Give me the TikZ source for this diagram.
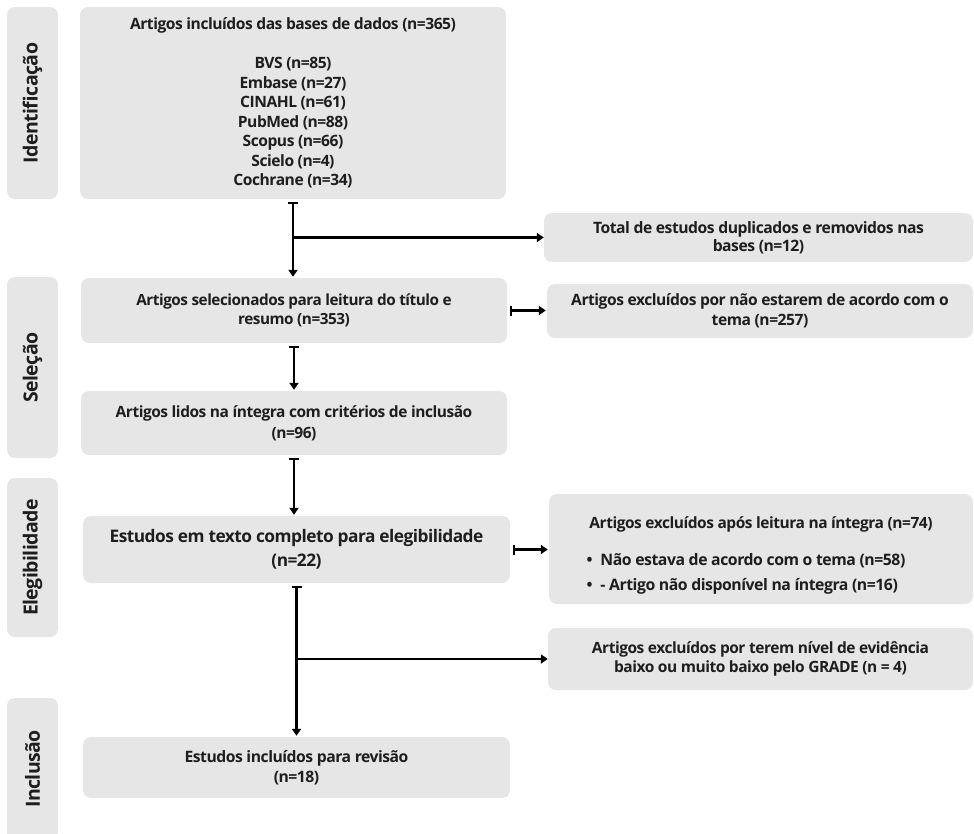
\documentclass[tikz,border=0pt]{standalone}
\usepackage{fontspec}
\setmainfont{Open Sans}[LetterSpace=-3]
\usetikzlibrary{arrows.meta}
\definecolor{boxgrey}{HTML}{E6E6E6}
\definecolor{inkgrey}{HTML}{1E1E1E}

\begin{document}
\begin{tikzpicture}[x=1pt,y=-1pt,
		box/.style={fill=boxgrey, rounded corners=8pt, align=center, text=inkgrey, inner sep=0pt},
		txt/.style 2 args={font=\bfseries\fontsize{#1}{#2}\selectfont},
		phase/.style={box, rotate=90, minimum height=51pt, txt={19.5}{20}},
		flow/.style={line width=2.2pt, {Bar[width=10pt,line width=2.2pt]}-{Triangle[width=9pt,length=7pt]}, shorten <=2.5pt, shorten >=1pt},
		feed/.style={line width=2.2pt, -{Triangle[width=9pt,length=7pt]}}]
			\useasboundingbox (0,0) rectangle (974,833);
			\clip (0,0) rectangle (974,833);
			
			% fases
			\node[phase, minimum width=192pt] (idf) at (32.5,103) {Identificação};
			\node[phase, minimum width=181pt] (sel) at (32.5,367.5) {Seleção};
			\node[phase, minimum width=159pt] (ele) at (32.5,557.5) {Elegibilidade};
			\node[phase, minimum width=142pt] (inc) at (32.5,769) {Inclusão};
			
			% coluna principal
			\node[box, txt={15.6}{19.5}, minimum width=426pt, minimum height=192pt] (bases) at (293,103)
				{Artigos incluídos das bases de dados (n=365)\\[19.5pt]
				BVS (n=85)\\ Embase (n=27)\\ CINAHL (n=61)\\ PubMed (n=88)\\ Scopus (n=66)\\ Scielo (n=4)\\ Cochrane (n=34)};
			\node[box, txt={15.3}{19}, minimum width=426pt, minimum height=65pt] (leitura) at (294,310.5)
				{Artigos selecionados para leitura do título e\\ resumo (n=353)};
			\node[box, txt={15.5}{21}, minimum width=426pt, minimum height=64pt] (lidos) at (294,423)
				{Artigos lidos na íntegra com critérios de inclusão\\ (n=96)};
			\node[box, txt={17.3}{24}, minimum width=427pt, minimum height=67pt] (eleg) at (296.5,549.5)
				{Estudos em texto completo para elegibilidade\\ (n=22)};
			\node[box, txt={15.7}{20}, minimum width=427pt, minimum height=61pt] (revisao) at (296.5,767.5)
				{Estudos incluídos para revisão\\ (n=18)};
			
			% exclusoes
			\node[box, txt={15.7}{18}, minimum width=429pt, minimum height=49pt] (dup) at (758.5,237.5)
				{Total de estudos duplicados e removidos nas\\ bases (n=12)};
			\node[box, txt={15.6}{20}, minimum width=426pt, minimum height=54pt] (tema) at (760,311)
				{Artigos excluídos por não estarem de acordo com o\\ tema (n=257)};
			\node[box, txt={15.5}{20}, minimum width=424pt, minimum height=110pt] (aposleit) at (761,549)
				{\rule{0pt}{28pt}Artigos excluídos após leitura na íntegra (n=74)\\[15pt]
				{\fontsize{15.8}{25}\selectfont\begin{tabular}{@{}l@{}}
					\textbullet\enspace Não estava de acordo com o tema (n=58)\\
					\textbullet\enspace - Artigo não disponível na íntegra (n=16)
				\end{tabular}\hspace*{30pt}}};
			\node[box, txt={15.5}{19}, minimum width=425pt, minimum height=62pt] (grade) at (760.5,659)
				{Artigos excluídos por terem nível de evidência\\ baixo ou muito baixo pelo GRADE (n = 4)};
			
			% setas
			\draw[flow] (bases.south) -- (bases.south |- leitura.north);
			\draw[feed] (bases.south |- dup.west) -- (dup.west);
			\draw[flow] (leitura.east) -- (leitura.east -| tema.west);
			\draw[flow] (leitura.south) -- (leitura.south |- lidos.north);
			\draw[flow] (lidos.south) -- (lidos.south |- eleg.north);
			\draw[flow] (eleg.east) -- (eleg.east -| aposleit.west);
			\draw[flow] (eleg.south) -- (revisao.north);
			\draw[feed] (eleg.south |- grade.west) -- (grade.west);
		\end{tikzpicture}
\end{document}
